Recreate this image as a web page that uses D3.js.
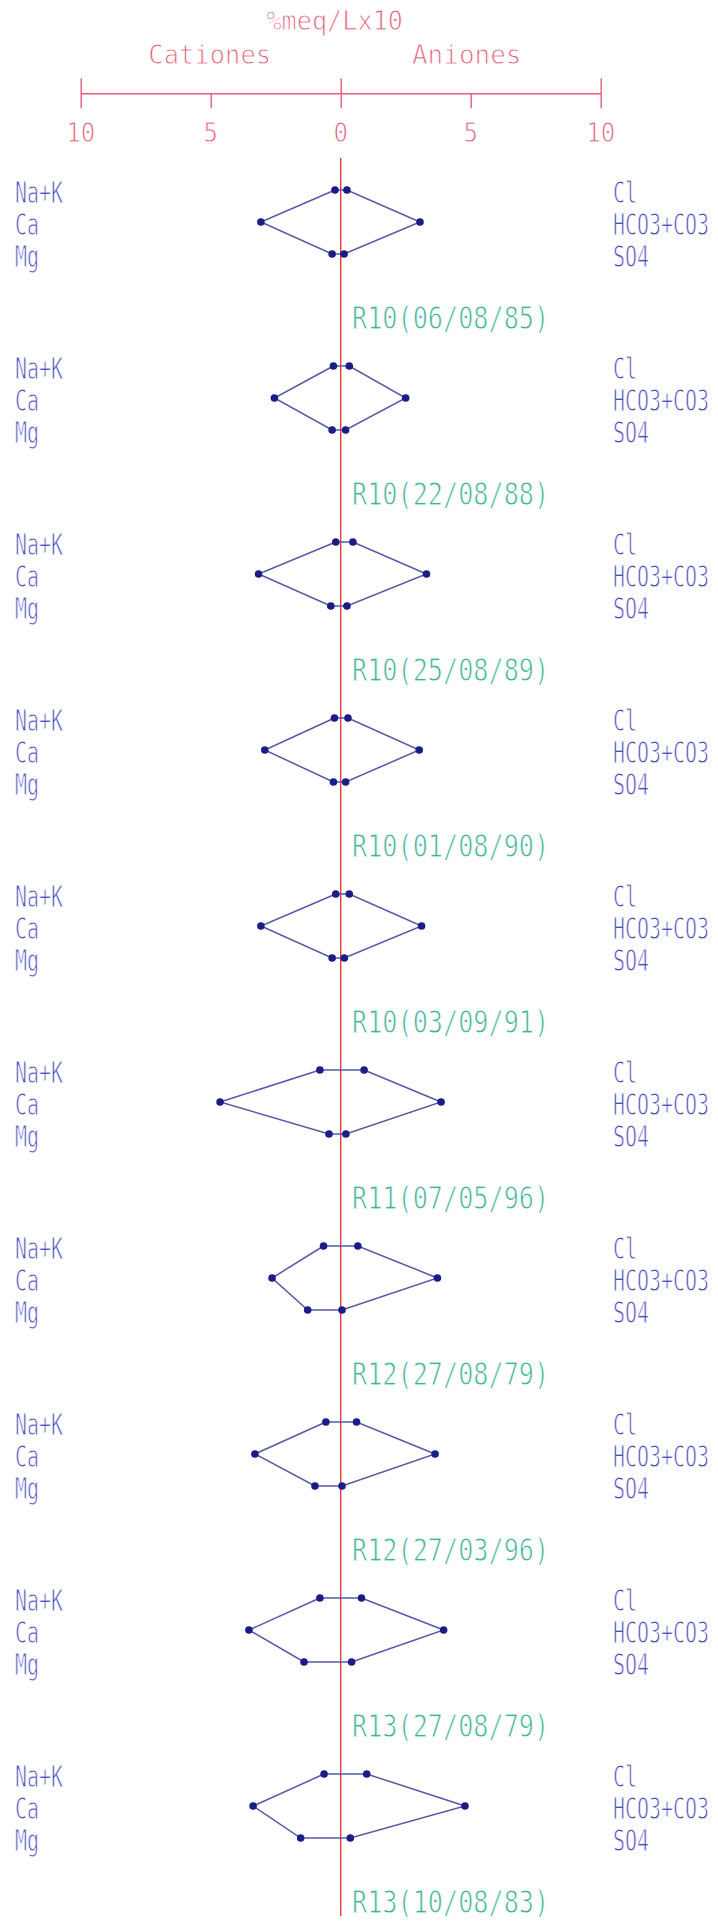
<!DOCTYPE html>
<html>
<head>
<meta charset="utf-8">
<script src="https://cdn.jsdelivr.net/npm/d3@7"></script>
<style>
  html, body { margin: 0; padding: 0; background: #ffffff; }
  svg { display: block; }
  text { font-family: "DejaVu Sans Mono", "Liberation Mono", monospace; stroke: #ffffff; stroke-width: 0.9px; }
</style>
</head>
<body>
<script>
// ---- data ----
const samples = ["R10(06/08/85)", "R10(22/08/88)", "R10(25/08/89)", "R10(01/08/90)", "R10(03/09/91)",
                 "R11(07/05/96)", "R12(27/08/79)", "R12(27/03/96)", "R13(27/08/79)", "R13(10/08/83)"];
const cationLabels = ["Na+K", "Ca", "Mg"];
const anionLabels = ["Cl", "HCO3+CO3", "SO4"];
const naK  = [0.22, 0.28, 0.19, 0.24, 0.19, 0.80, 0.66, 0.57, 0.80, 0.64];
const ca   = [3.07, 2.55, 3.16, 2.92, 3.07, 4.64, 2.64, 3.30, 3.53, 3.37];
const mg   = [0.33, 0.33, 0.38, 0.28, 0.33, 0.45, 1.27, 0.99, 1.41, 1.54];
const cl   = [0.24, 0.33, 0.47, 0.28, 0.33, 0.90, 0.66, 0.61, 0.80, 1.00];
const hco3 = [3.05, 2.50, 3.30, 3.02, 3.11, 3.86, 3.72, 3.63, 3.96, 4.78];
const so4  = [0.13, 0.19, 0.24, 0.19, 0.14, 0.20, 0.05, 0.05, 0.42, 0.37];
const tickValues = [-10, -5, 0, 5, 10];
const tickLabels = ["10", "5", "0", "5", "10"];
const majorTicks = [-10, 0, 10];
const unitTitle = "%meq/Lx10";
const sideTitles = ["Cationes", "Aniones"];

// ---- layout ----
const W = 718, H = 1921;
const axisY = 93.3;
const C = {
  axis: "#e4607a",
  vline: "#e43c3c",
  ion: "#5050bc",
  poly: "#5858a8",
  dot: "#1c1c86",
  sample: "#40b496"
};

const svg = d3.select("body").append("svg").attr("width", W).attr("height", H);

const x = d3.scaleLinear().domain([-10, 10]).range([80.7, 600.7]);
const xCat = v => x(-v);
const xAn = v => x(v);
const yRow = d3.scaleLinear().domain([0, samples.length - 1]).range([222, 1806]);
const yOff = d3.scalePoint().domain([0, 1, 2]).range([-32, 32]);

function label(g, txt, px, py, size, sx, color, anchor) {
  return g.append("text")
    .attr("transform", `translate(${px},${py}) scale(${sx},1)`)
    .attr("text-anchor", anchor || "start")
    .attr("font-size", size)
    .attr("fill", color)
    .text(txt);
}

// ---- top axis ----
const axisG = svg.append("g").attr("transform", `translate(0,${axisY})`)
  .call(d3.axisBottom(x).tickValues(tickValues).tickSize(15).tickSizeOuter(0).tickFormat(""));
axisG.select(".domain").attr("stroke", C.axis).attr("stroke-width", 1.4);
axisG.selectAll(".tick line").attr("stroke", C.axis).attr("stroke-width", 1.4);
axisG.selectAll(".tick").filter(d => majorTicks.includes(d))
  .append("line").attr("y1", -15).attr("y2", 0).attr("stroke", C.axis).attr("stroke-width", 1.4);

tickValues.forEach((v, i) => label(svg, tickLabels[i], x(v), 142, 27.4, 0.88, C.axis, "middle"));

label(svg, unitTitle, x(0) - 6, 30, 26, 0.97, C.axis, "middle");
label(svg, sideTitles[0], x(-5) - 1, 64, 26, 0.98, C.axis, "middle");
label(svg, sideTitles[1], x(5) - 4, 64, 26, 1.0, C.axis, "middle");

// ---- central red line ----
svg.append("line")
  .attr("x1", x(0)).attr("x2", x(0))
  .attr("y1", 158).attr("y2", 1916)
  .attr("stroke", C.vline).attr("stroke-width", 1.4);

// ---- stiff diagrams ----
const line = d3.line().curve(d3.curveLinearClosed);
samples.forEach((s, i) => {
  const yc = yRow(i);
  const g = svg.append("g");
  cationLabels.forEach((t, k) => label(g, t, 15, yc + yOff(k) + 13, 29.5, 0.675, C.ion));
  anionLabels.forEach((t, k) => label(g, t, 613, yc + yOff(k) + 13, 29.5, 0.675, C.ion));

  const pts = [
    [xCat(naK[i]), yc + yOff(0)],
    [xCat(ca[i]),  yc + yOff(1)],
    [xCat(mg[i]),  yc + yOff(2)],
    [xAn(so4[i]),  yc + yOff(2)],
    [xAn(hco3[i]), yc + yOff(1)],
    [xAn(cl[i]),   yc + yOff(0)]
  ];
  g.append("path").attr("d", line(pts))
    .attr("fill", "none").attr("stroke", C.poly).attr("stroke-width", 1.5);
  g.selectAll("circle").data(pts).join("circle")
    .attr("cx", d => d[0]).attr("cy", d => d[1]).attr("r", 3.8)
    .attr("fill", C.dot);

  label(g, s, 352, yc + 107, 31.5, 0.8, C.sample);
});
</script>
</body>
</html>
